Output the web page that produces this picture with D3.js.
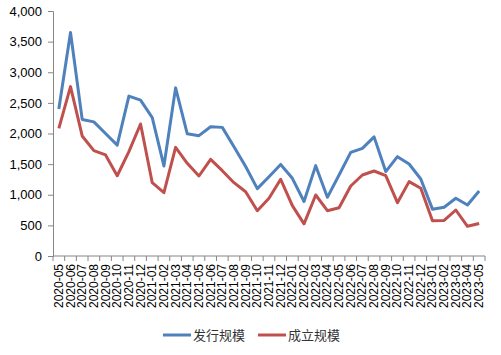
<!DOCTYPE html>
<html>
<head>
<meta charset="utf-8">
<script src="https://cdn.jsdelivr.net/npm/d3@7"></script>
<style>
  body { margin: 0; background: #fff; }
  svg text { font-family: "Liberation Sans", Arial, sans-serif; fill: #000; }
</style>
</head>
<body>
<div id="chart"></div>
<script>
const months = ["2020-05","2020-06","2020-07","2020-08","2020-09","2020-10","2020-11","2020-12",
  "2021-01","2021-02","2021-03","2021-04","2021-05","2021-06","2021-07","2021-08","2021-09","2021-10","2021-11","2021-12",
  "2022-01","2022-02","2022-03","2022-04","2022-05","2022-06","2022-07","2022-08","2022-09","2022-10","2022-11","2022-12",
  "2023-01","2023-02","2023-03","2023-04","2023-05"];
// 发行规模
const issueValues = [2400, 3650, 2230, 2190, 2000, 1810, 2610, 2545, 2260, 1470, 2745, 1995, 1965, 2110, 2100, 1785, 1460, 1100,
  1295, 1495, 1268, 890, 1475, 958, 1322, 1692, 1757, 1945, 1378, 1622, 1502, 1257, 765, 795, 942, 833, 1061];
// 成立规模
const establishValues = [2085, 2765, 1960, 1720, 1650, 1310, 1703, 2155, 1197, 1034, 1774, 1513, 1306, 1578, 1393, 1197, 1050, 740,
  942, 1252, 822, 525, 996, 740, 789, 1143, 1322, 1388, 1311, 871, 1214, 1105, 577, 580, 751, 485, 530];
const yTicks = [0, 500, 1000, 1500, 2000, 2500, 3000, 3500, 4000];
const seriesNames = ["发行规模", "成立规模"];
const seriesColors = ["#4F81BD", "#C0504D"];

const width = 501, height = 355;
const margin = { top: 11, right: 16, bottom: 99, left: 53 };
const axisColor = "#868686";

const svg = d3.select("#chart").append("svg")
  .attr("width", width)
  .attr("height", height);

const x = d3.scaleBand()
  .domain(months)
  .range([margin.left, width - margin.right]);

const y = d3.scaleLinear()
  .domain([0, 4000])
  .range([height - margin.bottom, margin.top]);

// y axis
const yAxis = svg.append("g")
  .attr("transform", "translate(" + margin.left + ",0)")
  .call(d3.axisLeft(y).tickValues(yTicks).tickSize(5).tickPadding(6).tickFormat(d3.format(",")));
yAxis.selectAll("line, path").attr("stroke", axisColor);
yAxis.selectAll("text").style("font-size", "13px");

// x axis line
const y0 = y(0);
svg.append("line")
  .attr("x1", margin.left).attr("x2", width - margin.right)
  .attr("y1", y0).attr("y2", y0)
  .attr("stroke", axisColor);

// tick marks between categories
const edges = months.map(m => x(m)).concat([x(months[months.length - 1]) + x.bandwidth()]);
svg.append("g").selectAll("line")
  .data(edges)
  .enter().append("line")
    .attr("x1", d => d).attr("x2", d => d)
    .attr("y1", y0).attr("y2", y0 + 5)
    .attr("stroke", axisColor);

// x labels rotated
svg.append("g").selectAll("text")
  .data(months)
  .enter().append("text")
    .attr("transform", d => "translate(" + (x(d) + x.bandwidth() / 2 + 4) + "," + (y0 + 8) + ") rotate(-90)")
    .attr("text-anchor", "end")
    .style("font-size", "12px")
    .text(d => d);

// lines
const line = d3.line()
  .x((d, i) => x(months[i]) + x.bandwidth() / 2)
  .y(d => y(d));

[issueValues, establishValues].forEach((vals, k) => {
  svg.append("path")
    .datum(vals)
    .attr("fill", "none")
    .attr("stroke", seriesColors[k])
    .attr("stroke-width", 3)
    .attr("stroke-linejoin", "round")
    .attr("d", line);
});

// legend
const legendX = [163, 258];
const legendY = 336;
seriesNames.forEach((name, k) => {
  svg.append("line")
    .attr("x1", legendX[k]).attr("x2", legendX[k] + 28)
    .attr("y1", legendY - 1).attr("y2", legendY - 1)
    .attr("stroke", seriesColors[k])
    .attr("stroke-width", 3);
  svg.append("text")
    .attr("x", legendX[k] + 30)
    .attr("y", legendY + 4)
    .style("font-family", "'Noto Sans CJK SC', sans-serif")
    .style("font-size", "13px")
    .style("fill", "#333")
    .text(name);
});
</script>
</body>
</html>
